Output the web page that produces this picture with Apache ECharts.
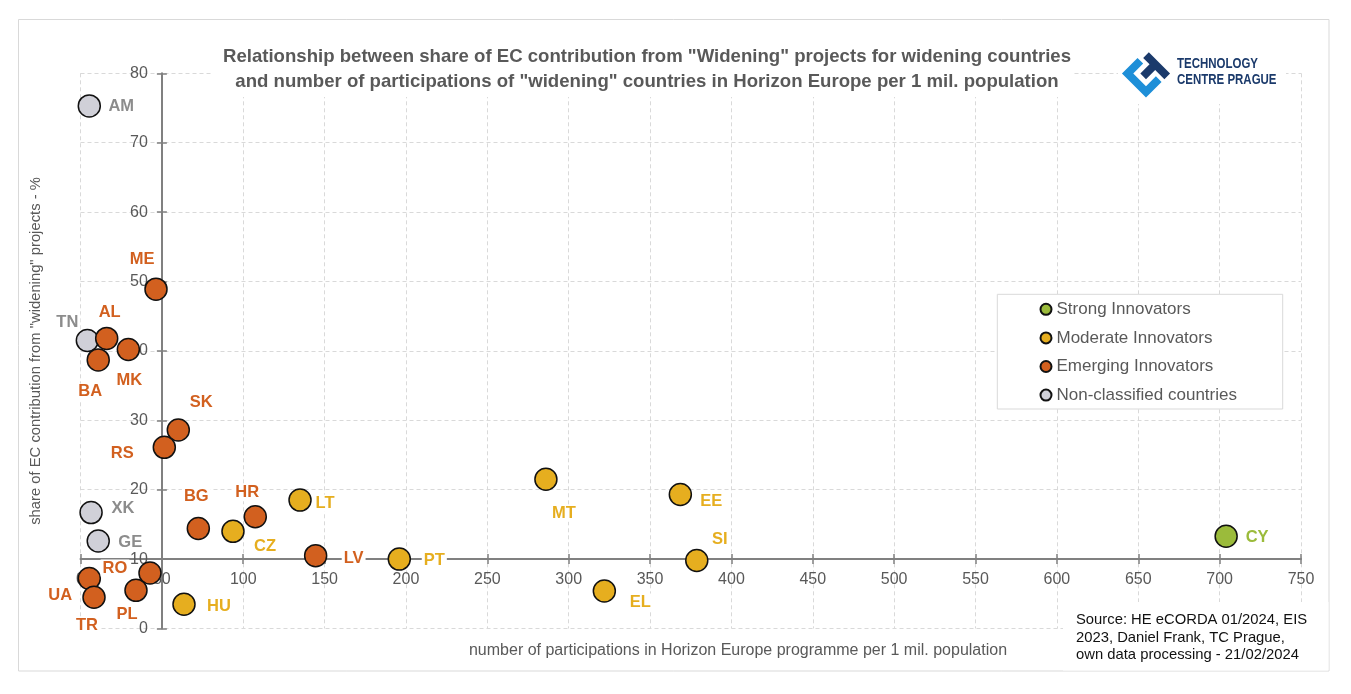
<!DOCTYPE html>
<html><head><meta charset="utf-8">
<script src="https://cdn.jsdelivr.net/npm/echarts@6/dist/echarts.min.js"></script>
<style>html,body{margin:0;padding:0;background:#fff}#c{width:1351px;height:694px}</style>
</head><body><div id="c"></div>
<script>
// ---- data ----
const countries      = ['CY','MT','EE','LT','CZ','PT','SI','EL','HU','ME','AL','MK','BA','SK','RS','HR','BG','LV','RO','PL','UA','TR','AM','TN','XK','GE'];
const participations = [704, 286, 368.6, 134.9, 93.7, 195.9, 378.7, 321.9, 63.6, 46.4, 16.1, 29.4, 10.9, 60.1, 51.5, 107.4, 72.4, 144.5, 42.7, 34.1, 5.4, 8.3, 5.4, 4.2, 6.5, 10.9];
const wideningShare  = [13.3, 21.5, 19.3, 18.5, 14.0, 10.0, 9.8, 5.4, 3.5, 48.9, 41.8, 40.2, 38.7, 28.6, 26.1, 16.1, 14.4, 10.5, 8.0, 5.5, 7.2, 4.5, 75.3, 41.5, 16.7, 12.6];
const groupIndex     = [0, 1,1,1,1,1,1,1,1, 2,2,2,2,2,2,2,2,2,2,2,2,2, 3,3,3,3];
const groupNames     = ['Strong Innovators','Moderate Innovators','Emerging Innovators','Non-classified countries'];
const xTickMin = 0, xTickMax = 750, xTickStep = 50;
const yTickMin = 0, yTickMax = 80,  yTickStep = 10;
const xCross = 50, yCross = 10;   // where the axes cross

// ---- styling ----
const markerColors = ['#9BBB3B','#E6AE1F','#D2601F','#D0D0D8'];
const labelColors  = ['#9BBB3B','#E6AE1F','#D2601F','#8C8C8C'];
const labelOffsets = {
  AM:[32,1], ME:[-14,-30], TN:[-20,-18], AL:[3,-26], BA:[-8,32], MK:[1,31], SK:[23,-28], RS:[-42,6],
  XK:[32,-4], GE:[32,1], BG:[-2,-32], HR:[-8,-24], LT:[25,3], CZ:[32,15], LV:[38,3], PT:[35,1],
  RO:[-35,-5], UA:[-29,17], PL:[-9,24], TR:[-7,28], HU:[35,2], MT:[18,34], EE:[31,7], SI:[23,-21],
  EL:[36,11], CY:[31,1]
};
const FONT = 'Liberation Sans';
const G = {left:80.5, top:73.3, width:1220.5, height:555.2};
const xOff = -G.height * (yCross - yTickMin) / (yTickMax - yTickMin);
const yOff = -G.width * (xCross - xTickMin) / (xTickMax - xTickMin);
const axisGray = '#808080', textGray = '#595959';

const series = groupNames.map((gname, gi) => ({
  name: gname,
  type: 'scatter',
  z: gi === 3 ? 1 : 2,
  symbol: 'circle',
  symbolSize: 22,
  itemStyle: {color: markerColors[gi], borderColor: '#111', borderWidth: 1.5, opacity: 1},
  label: {
    show: true, position: 'inside', formatter: '{b}',
    color: labelColors[gi], fontSize: 16.5, fontWeight: 'bold', fontFamily: FONT,
    backgroundColor: '#fff', padding: [0, 2]
  },
  emphasis: {disabled: true},
  data: countries.map((c, i) => ({c, i})).filter(o => groupIndex[o.i] === gi).map(o => ({
    name: o.c,
    value: [participations[o.i], wideningShare[o.i]],
    label: {offset: labelOffsets[o.c]}
  }))
}));

function logoPts(list) {
  const cx = 1146, cy = 73.5, k = Math.SQRT1_2;
  return list.map(([u, v]) => [cx + (u - v) * k, cy + (u + v) * k]);
}
const h = 17, t = 8;
const blueU = logoPts([[-h,-5],[-h+t,-5],[-h+t,h-t],[h-t,h-t],[h-t,-5],[h,-5],[h,h],[-h,h]]);
const navyT = logoPts([[-13,-h],[h,-h],[h,-h+t],[4,-h+t],[4,4],[-4,4],[-4,-h+t],[-13,-h+t]]);

const splitStyle = {show: true, lineStyle: {color: '#D9D9D9', width: 1, type: [4, 3]}};
const baseX = {type: 'value', gridIndex: 0, min: xTickMin, max: xTickMax, interval: xTickStep, position: 'bottom', offset: xOff};
const baseY = {type: 'value', gridIndex: 0, min: yTickMin, max: yTickMax, interval: yTickStep, position: 'left', offset: yOff};

const option = {
  animation: false,
  backgroundColor: '#fff',
  textStyle: {fontFamily: FONT},
  title: {
    text: 'Relationship between share of EC contribution from "Widening" projects for widening countries\nand number of participations of "widening" countries in Horizon Europe per 1 mil. population',
    left: 642, top: 39, textAlign: 'center', z: 6,
    textStyle: {fontSize: 18.6, fontWeight: 'bold', color: textGray, lineHeight: 25, fontFamily: FONT}
  },
  legend: {
    orient: 'vertical', left: 1039.5, top: 300.3, z: 10,
    itemWidth: 11, itemHeight: 11, itemGap: 10.6, padding: 0,
    icon: 'circle',
    data: groupNames,
    textStyle: {fontSize: 17, color: textGray, lineHeight: 18, fontFamily: FONT},
    selectedMode: false
  },
  grid: {left: G.left, top: G.top, width: G.width, height: G.height, containLabel: false, outerBoundsMode: 'none'},
  xAxis: [
    Object.assign({}, baseX, {
      axisLine: {show: true, onZero: false, lineStyle: {color: axisGray, width: 2}},
      axisTick: {show: true, length: 5, lineStyle: {color: axisGray, width: 1.5}},
      axisLabel: {color: textGray, fontSize: 16, margin: 12, fontFamily: FONT},
      splitLine: splitStyle
    }),
    Object.assign({}, baseX, {
      axisLine: {show: false, onZero: false},
      axisTick: {show: true, inside: true, length: 5, lineStyle: {color: axisGray, width: 1.5}},
      axisLabel: {show: false}, splitLine: {show: false}
    })
  ],
  yAxis: [
    Object.assign({}, baseY, {
      axisLine: {show: true, onZero: false, lineStyle: {color: axisGray, width: 2}},
      axisTick: {show: true, length: 5, lineStyle: {color: axisGray, width: 1.5}},
      axisLabel: {color: textGray, fontSize: 16, margin: 14, fontFamily: FONT},
      splitLine: splitStyle
    }),
    Object.assign({}, baseY, {
      axisLine: {show: false, onZero: false},
      axisTick: {show: true, inside: true, length: 5, lineStyle: {color: axisGray, width: 1.5}},
      axisLabel: {show: false}, splitLine: {show: false}
    })
  ],
  graphic: [
    {type: 'rect', z: 0, silent: true, shape: {x: 18.5, y: 19.5, width: 1310.5, height: 651.5}, style: {fill: 'none', stroke: '#D9D9D9', lineWidth: 1}},
    {type: 'rect', z: 1, silent: true, shape: {x: 212, y: 40, width: 860, height: 57}, style: {fill: '#fff'}},
    {type: 'rect', z: 1, silent: true, shape: {x: 1118, y: 42, width: 168, height: 62}, style: {fill: '#fff'}},
    {type: 'rect', z: 1, silent: true, shape: {x: 1063, y: 602, width: 265.5, height: 68.5}, style: {fill: '#fff'}},
    {type: 'rect', z: 3, silent: true, shape: {x: 997.3, y: 294.3, width: 285.4, height: 114.7}, style: {fill: '#fff', stroke: '#D9D9D9', lineWidth: 1}},
    {type: 'polygon', z: 5, silent: true, shape: {points: blueU}, style: {fill: '#1E8FD8'}},
    {type: 'polygon', z: 5, silent: true, shape: {points: navyT}, style: {fill: '#1B3A6B'}},
    {type: 'text', z: 5, silent: true, x: 1177, y: 64, scaleX: 0.82,
      style: {text: 'TECHNOLOGY', x: 0, y: 0, fill: '#1B3A6B', font: 'bold 14px "Liberation Sans"', verticalAlign: 'middle', align: 'left'}},
    {type: 'text', z: 5, silent: true, x: 1177, y: 80.3, scaleX: 0.82,
      style: {text: 'CENTRE PRAGUE', x: 0, y: 0, fill: '#1B3A6B', font: 'bold 14px "Liberation Sans"', verticalAlign: 'middle', align: 'left'}},
    {type: 'text', z: 5, silent: true, x: 738, y: 651,
      style: {text: 'number of participations in Horizon Europe programme per 1 mil. population', x: 0, y: 0, fill: textGray, font: '16px "Liberation Sans"', align: 'center', verticalAlign: 'middle'}},
    {type: 'text', z: 5, silent: true, x: 36, y: 351, rotation: Math.PI / 2,
      style: {text: 'share of EC contribution from "widening" projects - %', x: 0, y: 0, fill: textGray, font: '14.8px "Liberation Sans"', align: 'center', verticalAlign: 'middle'}},
    {type: 'text', z: 5, silent: true, x: 1076, y: 611.5,
      style: {text: 'Source: HE eCORDA 01/2024, EIS\n2023, Daniel Frank, TC Prague,\nown data processing - 21/02/2024', x: 0, y: 0, fill: '#111', font: '14.8px "Liberation Sans"', lineHeight: 17.5, align: 'left', verticalAlign: 'top'}}
  ],
  series: series
};
const chart = echarts.init(document.getElementById('c'), null, {renderer: 'canvas'});
chart.setOption(option);
</script></body></html>
